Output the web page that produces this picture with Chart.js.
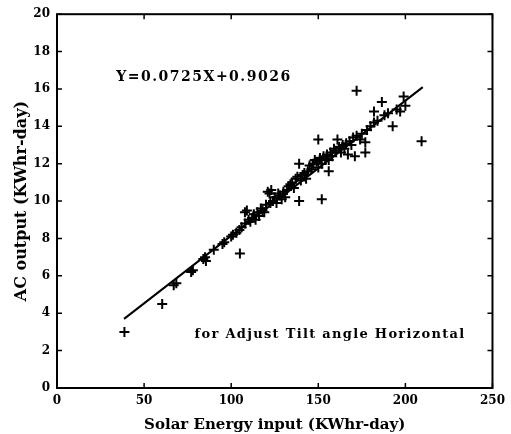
<!DOCTYPE html>
<html>
<head>
<meta charset="utf-8">
<script src="https://cdn.jsdelivr.net/npm/chart.js@4.4.1/dist/chart.umd.min.js"></script>
<style>
  html, body { margin: 0; padding: 0; background: #fff; }
  #wrap { width: 511px; height: 434px; }
</style>
</head>
<body>
<div id="wrap"><canvas id="chart"></canvas></div>
<script>
"use strict";

const solarInput = [
  38.7, 60.4, 67, 68.5, 77, 78, 84, 85, 85.5, 90, 95, 96, 100, 101, 103, 104.7, 105, 106,
  107.9, 108, 109, 110, 111, 112, 113, 114, 115, 116, 117, 118, 119, 120, 121, 122, 122.5,
  123, 124, 125, 126, 127, 128, 129, 130, 131, 132, 133, 134, 135, 136, 137, 138, 139, 139,
  140, 141, 142, 143, 144, 145, 146, 147, 148, 149, 150, 150, 151, 152, 152, 153, 154, 155,
  156, 156, 157, 158, 159, 160, 161, 162, 163, 164, 165, 166, 167, 168, 169, 170, 171, 172,
  172, 174, 175, 177, 177, 178, 180, 182, 182, 184, 186.5, 188, 190, 192.7, 195, 197, 199,
  200, 209.3
];
const acOutput = [
  3.0, 4.5, 5.5, 5.6, 6.2, 6.3, 6.9, 7.0, 6.8, 7.4, 7.7, 7.8, 8.1, 8.2, 8.3, 8.45, 7.2, 8.6,
  9.4, 8.8, 9.5, 9.0, 8.9, 9.1, 9.3, 9.0, 9.4, 9.2, 9.6, 9.5, 9.4, 9.8, 10.5, 10.4, 9.9,
  10.6, 10.0, 10.2, 9.9, 10.4, 10.3, 10.1, 10.5, 10.2, 10.6, 10.8, 10.9, 11.0, 10.7, 11.2, 11.3, 12.0, 10.0,
  11.1, 11.4, 11.5, 11.2, 11.6, 11.9, 11.7, 12.0, 12.2, 12.1, 13.3, 11.8, 12.3, 10.1, 12.0, 12.4, 12.2, 12.5,
  12.2, 11.6, 12.6, 12.4, 12.8, 12.7, 13.3, 12.9, 12.6, 13.0, 12.8, 13.1, 12.5, 13.2, 13.0, 13.4, 12.4, 15.9,
  13.5, 13.3, 13.6, 13.15, 12.6, 13.8, 14.0, 14.8, 14.2, 14.3, 15.3, 14.6, 14.7, 14.0, 14.9, 14.8, 15.6,
  15.1, 13.2
];

// fitted line end points
const fitX = [38.5, 210];
const fitY = [3.7, 16.1];

const xTicks = [0, 50, 100, 150, 200, 250];
const yTicks = [0, 2, 4, 6, 8, 10, 12, 14, 16, 18, 20];

const equationText = 'Y=0.0725X+0.9026';
const noteText = 'for Adjust Tilt angle Horizontal';

const FONT = 'DejaVu Serif';

const scatterData = solarInput.map(function(_x, _i) { return {x: _x, y: acOutput[_i]}; });
const fitData = fitX.map(function(_x, _i) { return {x: _x, y: fitY[_i]}; });

// frame, inward ticks and the two text notes
const framePlugin = {
  id: 'frame',
  afterDraw: function(_chart) {
    const _ctx = _chart.ctx;
    const _a = _chart.chartArea;
    const _xs = _chart.scales.x;
    const _ys = _chart.scales.y;
    const _len = 5;

    _ctx.save();
    _ctx.strokeStyle = '#000';
    _ctx.lineWidth = 2;
    _ctx.strokeRect(_a.left, _a.top, _a.right - _a.left, _a.bottom - _a.top);

    _ctx.lineWidth = 1.5;
    _ctx.beginPath();
    xTicks.forEach(function(_v) {
      const _px = _xs.getPixelForValue(_v);
      _ctx.moveTo(_px, _a.bottom); _ctx.lineTo(_px, _a.bottom - _len);
      _ctx.moveTo(_px, _a.top); _ctx.lineTo(_px, _a.top + _len);
    });
    yTicks.forEach(function(_v) {
      const _py = _ys.getPixelForValue(_v);
      _ctx.moveTo(_a.left, _py); _ctx.lineTo(_a.left + _len, _py);
      _ctx.moveTo(_a.right, _py); _ctx.lineTo(_a.right - _len, _py);
    });
    _ctx.stroke();

    _ctx.fillStyle = '#000';
    _ctx.textBaseline = 'middle';
    _ctx.textAlign = 'left';
    _ctx.font = 'bold 14px "' + FONT + '"';
    _ctx.letterSpacing = '1.5px';
    _ctx.fillText(equationText, _xs.getPixelForValue(34), _ys.getPixelForValue(16.6));
    _ctx.font = 'bold 13px "' + FONT + '"';
    _ctx.letterSpacing = '1.3px';
    _ctx.fillText(noteText, _xs.getPixelForValue(79), _ys.getPixelForValue(2.85));
    _ctx.restore();
  }
};

const ctx = document.getElementById('chart');

new Chart(ctx, {
  data: {
    datasets: [
      {
        type: 'scatter',
        data: scatterData,
        pointStyle: 'cross',
        pointRadius: 5,
        borderColor: '#000',
        borderWidth: 2,
        backgroundColor: '#000'
      },
      {
        type: 'line',
        data: fitData,
        borderColor: '#000',
        borderWidth: 2,
        pointRadius: 0,
        fill: false
      }
    ]
  },
  options: {
    responsive: true,
    maintainAspectRatio: false,
    animation: false,
    layout: { padding: { top: 13, right: 11, left: 0, bottom: 0 } },
    plugins: {
      legend: { display: false },
      tooltip: { enabled: false }
    },
    scales: {
      x: {
        type: 'linear',
        min: 0,
        max: 250,
        afterBuildTicks: function(_s) { _s.ticks = xTicks.map(function(_v) { return {value: _v}; }); },
        afterFit: function(_s) { _s.height = 46; },
        grid: { drawOnChartArea: false, drawTicks: false },
        border: { display: false },
        ticks: {
          color: '#000',
          padding: 6,
          maxRotation: 0,
          font: { family: FONT, weight: 'bold', size: 12 }
        },
        title: {
          display: true,
          text: 'Solar Energy input (KWhr-day)',
          color: '#000',
          padding: { top: 1, bottom: 0 },
          font: { family: FONT, weight: 'bold', size: 15 }
        }
      },
      y: {
        type: 'linear',
        min: 0,
        max: 20,
        afterBuildTicks: function(_s) { _s.ticks = yTicks.map(function(_v) { return {value: _v}; }); },
        afterFit: function(_s) { _s.width = 57; },
        grid: { drawOnChartArea: false, drawTicks: false },
        border: { display: false },
        ticks: {
          color: '#000',
          padding: 7,
          font: { family: FONT, weight: 'bold', size: 12 }
        },
        title: {
          display: true,
          text: 'AC output (KWhr-day)',
          color: '#000',
          padding: { top: 12, bottom: 0 },
          font: { family: FONT, weight: 'bold', size: 16 }
        }
      }
    }
  },
  plugins: [framePlugin]
});
</script>
</body>
</html>
